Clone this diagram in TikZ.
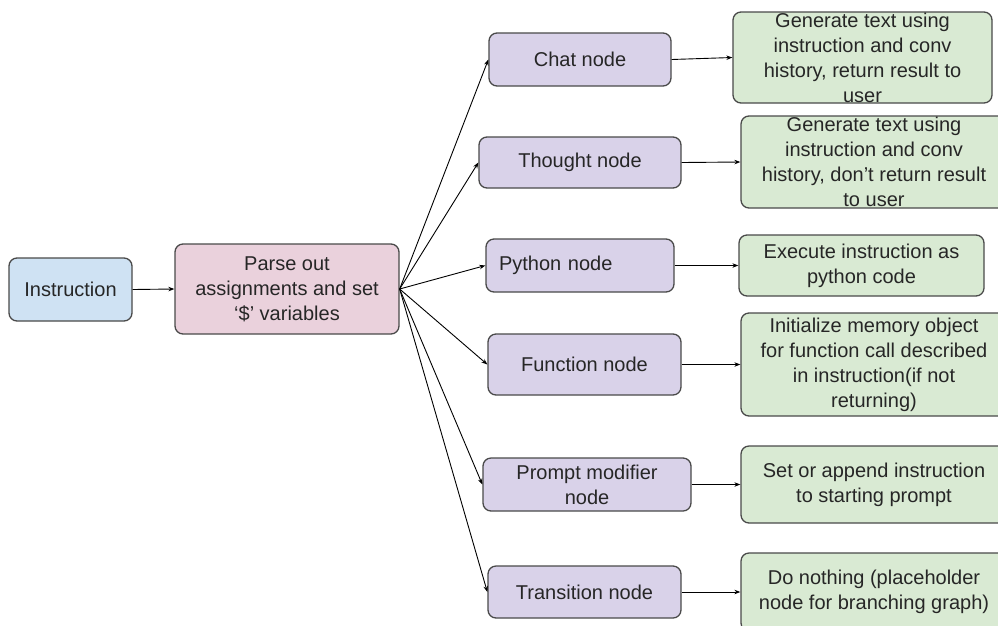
\documentclass[tikz,border=0pt]{standalone}
\usepackage{fontspec}
\setmainfont{Liberation Sans}
\usetikzlibrary{arrows.meta}
\definecolor{bluef}{HTML}{CFE2F3}
\definecolor{pinkf}{HTML}{EAD1DC}
\definecolor{lavf}{HTML}{D9D2E9}
\definecolor{greenf}{HTML}{D9EAD3}
\definecolor{edgec}{HTML}{4A4A4A}
\begin{document}
\begin{tikzpicture}[x=1pt,y=-1pt,
  box/.style={draw=edgec,line width=1.3pt,rounded corners=8pt,align=center,
    inner xsep=0pt,inner ysep=0pt,font=\fontsize{20pt}{25pt}\selectfont,text=black!85},
  bluebox/.style={box,fill=bluef},
  pinkbox/.style={box,fill=pinkf},
  lavbox/.style={box,fill=lavf},
  greenbox/.style={box,fill=greenf},
  conn/.style={draw=black,line width=0.9pt,-{Stealth[length=6pt,width=4.5pt]}}]
\clip (0,0) rectangle (998,625);
\fill[white] (0,0) rectangle (998,625);
% left
\node[bluebox,minimum width=123pt,minimum height=63pt] (ins) at (70.5,289.5) {Instruction};
\node[pinkbox,minimum width=224pt,minimum height=90pt] (parse) at (287,289) {Parse out\\assignments and set\\‘\$’ variables};
% middle
\node[lavbox,minimum width=182pt,minimum height=53pt] (chat) at (580,59.5) {Chat node};
\node[lavbox,minimum width=202pt,minimum height=51pt] (thought) at (580,162.5) {Thought node};
\node[lavbox,minimum height=53pt,text width=162pt,align=left,inner xsep=13pt] (python) at (580,265.5) {Python node};
\node[lavbox,minimum width=193pt,minimum height=61pt] (func) at (584.5,364.5) {Function node};
\node[lavbox,minimum width=208pt,minimum height=53pt] (prompt) at (587,484.5) {Prompt modifier\\node};
\node[lavbox,minimum width=193pt,minimum height=52pt] (trans) at (584.5,592) {Transition node};
% right
\node[greenbox,minimum width=259pt,minimum height=91pt] (g1) at (862.5,57.5) {Generate text using\\instruction and conv\\history, return result to\\user};
\node[greenbox,minimum width=266pt,minimum height=92pt] (g2) at (874,162) {Generate text using\\instruction and conv\\history, don’t return result\\to user};
\node[greenbox,minimum width=245pt,minimum height=61pt] (g3) at (861.5,265.5) {Execute instruction as\\python code};
\node[greenbox,minimum width=266pt,minimum height=103pt] (g4) at (874,364.5) {Initialize memory object\\for function call described\\in instruction(if not\\returning)};
\node[greenbox,minimum width=266pt,minimum height=77pt] (g5) at (874,484.5) {Set or append instruction\\to starting prompt};
\node[greenbox,minimum width=266pt,minimum height=78pt] (g6) at (874,592) {Do nothing (placeholder\\node for branching graph)};
% connectors
\draw[conn] (ins.east) -- (parse.west);
\foreach \t in {chat,thought,python,func,prompt,trans}
  \draw[conn] (parse.east) -- (\t.west);
\draw[conn] (chat.east) -- (g1.west);
\draw[conn] (thought.east) -- (g2.west);
\draw[conn] (python.east) -- (g3.west);
\draw[conn] (func.east) -- (g4.west);
\draw[conn] (prompt.east) -- (g5.west);
\draw[conn] (trans.east) -- (g6.west);
\end{tikzpicture}
\end{document}
